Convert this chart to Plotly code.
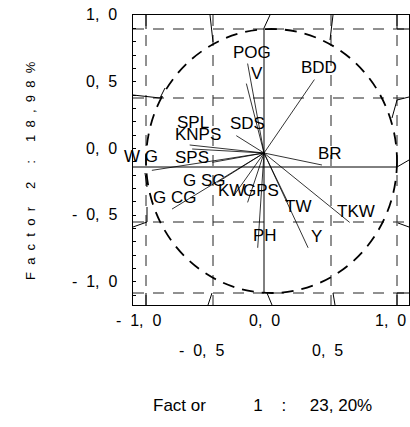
import plotly.graph_objects as go

# ---- data: factor loadings (Factor 1, Factor 2) ----
variables = ["POG", "V", "BDD", "SDS", "SPL", "KNPS", "W G", "SPS", "G SG",
             "G CG", "KW", "GPS", "PH", "Y", "TW", "TKW", "BR"]
factor1 = [-0.13, -0.14, 0.40, -0.22, -0.59, -0.57, -0.89, -0.41, -0.37,
           -0.73, -0.24, -0.13, -0.05, 0.35, 0.19, 0.68, 0.46]
factor2 = [0.67, 0.52, 0.55, 0.13, 0.06, 0.03, -0.13, -0.07, -0.22,
           -0.42, -0.32, -0.37, -0.71, -0.71, -0.37, -0.52, -0.09]

x_tick_row1 = [-1.0, 0.0, 1.0]
x_tick_row1_text = ["-  1,  0", "0,  0", "1,  0"]
x_tick_row2 = [-0.5, 0.5]
x_tick_row2_text = ["-  0,  5", "0,  5"]
y_ticks = [1.0, 0.5, 0.0, -0.5, -1.0]
y_ticks_text = ["1,  0", "0,  5", "0,  0", "-  0,  5", "-  1,  0"]

NB = "\u00a0"
x_title = "Fact or" + NB * 10 + "1" + NB * 4 + ":" + NB * 5 + "23, 20%"
y_title = "F  a  c  t  o  r     2     :     1  8  ,  9  8  %".replace(" ", NB)

# ---- styling: label offsets in pixels (dx, dy up) ----
label_shift = {
    "POG": (4, 11), "V": (11, 10), "BDD": (5, 12), "SDS": (11, 12),
    "SPL": (3, 22), "KNPS": (6, 15), "W G": (-11, 14), "SPS": (-20, 5),
    "G SG": (-13, 2), "G CG": (2, 12), "KW": (-2, 5), "GPS": (13, 12),
    "PH": (7, 12), "Y": (8, 11), "TW": (10, -4), "TKW": (6, 11), "BR": (8, 12),
}

# pixel -> data helpers for decorative frame pieces
def X(px):
    return (px - 264) / 126.0

def Y(py):
    return (153 - py) / 133.5

FONT = "Liberation Sans, Arial, sans-serif"
fig = go.Figure()

# vectors from origin
vx, vy = [], []
for a, b in zip(factor1, factor2):
    vx += [0, a, None]
    vy += [0, b, None]
fig.add_trace(go.Scatter(x=vx, y=vy, mode="lines",
                         line=dict(color="black", width=0.8),
                         hoverinfo="skip", showlegend=False))

shapes = []
dash_style = dict(color="#222222", width=1, dash="11px,9px")
for px in [146, 213, 331, 397]:
    shapes.append(dict(type="line", xref="x", yref="y", x0=X(px), x1=X(px),
                       y0=Y(15), y1=Y(305), line=dash_style, layer="below"))
for py in [29, 98, 222, 293]:
    shapes.append(dict(type="line", xref="x", yref="y", x0=X(133), x1=X(409),
                       y0=Y(py), y1=Y(py), line=dash_style, layer="below"))

# dashed correlation circle
shapes.append(dict(type="circle", xref="x", yref="y", x0=X(146), x1=X(397),
                   y0=Y(293), y1=Y(29),
                   line=dict(color="black", width=1.8, dash="12px,8px")))

# solid decorative frame pieces / axis lines
solid = [
    [(264, 28), (264, 293)],
    [(264, 28), (270, 15)],
    [(267, 293), (272, 305)],
    [(133, 167), (397, 167), (409, 160)],
    [(210, 15), (213, 42)],
    [(333, 15), (330, 40)],
    [(146, 15), (146, 29)],
    [(397, 15), (397, 29), (409, 29)],
    [(133, 95), (160, 98), (165, 88)],
    [(133, 227), (147, 222), (147, 207)],
    [(145, 173), (147, 187)],
    [(208, 305), (212, 293)],
    [(333, 293), (335, 305)],
    [(146, 293), (146, 305)],
    [(397, 293), (397, 305)],
    [(397, 293), (409, 293)],
    [(392, 118), (397, 100), (409, 97)],
    [(398, 223), (409, 227)],
]
for seg in solid:
    path = "M " + " L ".join(f"{X(p[0])},{Y(p[1])}" for p in seg)
    shapes.append(dict(type="path", xref="x", yref="y", path=path,
                       line=dict(color="black", width=1)))

annotations = []
for name, a, b in zip(variables, factor1, factor2):
    dx, dy = label_shift[name]
    annotations.append(dict(x=a, y=b, xref="x", yref="y", text=name,
                            showarrow=False, xshift=dx, yshift=dy,
                            xanchor="center", yanchor="middle",
                            font=dict(family=FONT, size=17, color="black")))

for v, t in zip(y_ticks, y_ticks_text):
    annotations.append(dict(x=(119 - 133) / 276.0, y=v, xref="paper", yref="y",
                            text=t.replace(" ", NB), showarrow=False,
                            xanchor="right", yanchor="middle", yshift=5,
                            font=dict(family=FONT, size=16, color="black")))
for v, t in zip(x_tick_row1, x_tick_row1_text):
    annotations.append(dict(x=v, y=(305 - 320) / 290.0, xref="x", yref="paper",
                            text=t.replace(" ", NB), showarrow=False,
                            xanchor="center", yanchor="middle",
                            font=dict(family=FONT, size=16, color="black")))
for v, t in zip(x_tick_row2, x_tick_row2_text):
    annotations.append(dict(x=v, y=(305 - 350) / 290.0, xref="x", yref="paper",
                            text=t.replace(" ", NB), showarrow=False,
                            xanchor="center", yanchor="middle",
                            font=dict(family=FONT, size=16, color="black")))

annotations.append(dict(x=(262 - 133) / 276.0, y=(305 - 405) / 290.0,
                        xref="paper", yref="paper", text=x_title, showarrow=False,
                        xanchor="center", yanchor="middle",
                        font=dict(family=FONT, size=17, color="black")))
annotations.append(dict(x=(30 - 133) / 276.0, y=(305 - 171) / 290.0,
                        xref="paper", yref="paper", text=y_title, showarrow=False,
                        textangle=-90, xanchor="center", yanchor="middle",
                        font=dict(family=FONT, size=13, color="black")))

fig.update_layout(
    width=410, height=427,
    margin=dict(l=133, r=1, t=15, b=122),
    paper_bgcolor="white", plot_bgcolor="white",
    showlegend=False,
    shapes=shapes,
    annotations=annotations,
    xaxis=dict(range=[X(133), X(409)], showgrid=False, zeroline=False,
               showticklabels=False, ticks="", showline=True, linecolor="black",
               linewidth=1, mirror=True),
    yaxis=dict(range=[Y(305), Y(15)], showgrid=False, zeroline=False,
               showticklabels=False, ticks="inside", ticklen=3,
               tickcolor="black", tick0=0.034, dtick=0.1,
               showline=True, linecolor="black", linewidth=1, mirror=True),
)

fig.write_html("out.html", config={"displayModeBar": False},
               post_script="document.body.style.margin='0';document.body.style.overflow='hidden';")
